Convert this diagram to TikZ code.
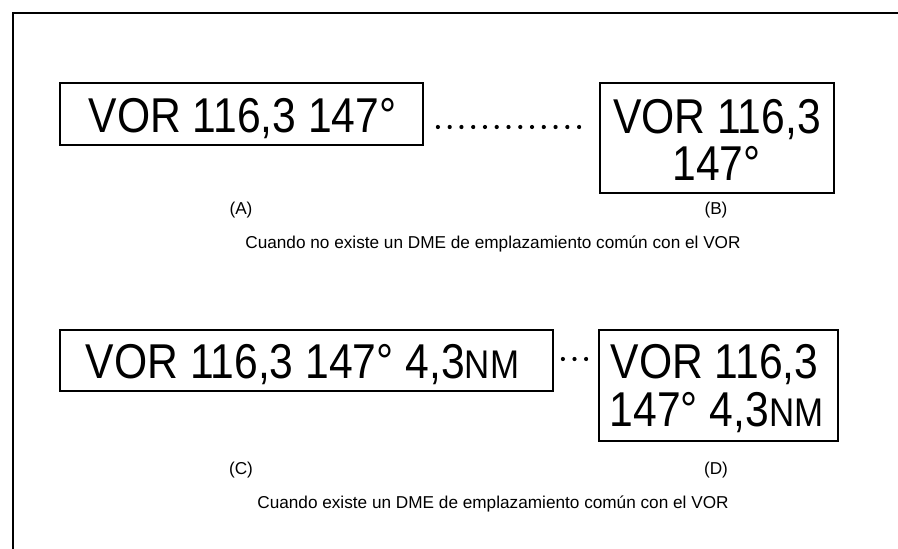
\documentclass[tikz,border=0pt]{standalone}
\usepackage{fontspec}
\setmainfont{Liberation Sans}
\newfontfamily\bigfamily[FakeStretch=0.872]{Liberation Sans}
\usetikzlibrary{calc}
\newcommand{\bigtxt}{\bigfamily\fontsize{48.9}{48.9}\selectfont}
\newcommand{\nmtxt}[1]{{\fontsize{40}{40}\selectfont #1}}
\tikzset{
  framebox/.style={draw=black, line width=1.6pt},
  vorbox/.style={draw=black, line width=1.8pt, rectangle, inner sep=0pt},
  bigtext/.style={font=\bigtxt, anchor=base, inner sep=0pt, text height=36pt, text depth=0pt},
  labeltext/.style={font=\fontsize{17.2}{17.2}\selectfont, anchor=base, inner sep=0pt},
  dotmark/.style={fill=black},
}
\begin{document}
\begin{tikzpicture}[x=1pt,y=-1pt]
\useasboundingbox (0,0) rectangle (898,549);
\fill[white] (0,0) rectangle (898,549);
% outer frame (only left and top sides visible)
\draw[framebox] (13,549) -- (13,13) -- (898,13);

% boxes
\node[vorbox, minimum width=363pt, minimum height=62pt] (A) at (241.5,114) {};
\node[vorbox, minimum width=234pt, minimum height=110pt] (B) at (717,138) {};
\node[vorbox, minimum width=493pt, minimum height=61pt] (C) at (306.5,360.5) {};
\node[vorbox, minimum width=239pt, minimum height=111pt] (D) at (718.5,385.5) {};

% box texts
\node[bigtext] (tB1) at (717,133.5) {VOR 116,3};
\node[bigtext] (tB2) at (716.5,180) {147°};
\node[bigtext] (tA) at (242.5,132) {VOR 116,3 147°};
\node[bigtext] (tC) at (302.5,378) {VOR 116,3 147° 4,3\nmtxt{NM}};
\node[bigtext] (tD1) at (714.5,378) {VOR 116,3};
\node[bigtext] (tD2) at (716.5,426) {147° 4,3\nmtxt{NM}};

% dotted connectors
\coordinate (ab1) at ($(A.east)+(14,13)$);
\coordinate (ab2) at ($(B.west)+(-20,-11)$);
\coordinate (cd1) at ($(C.east)+(9,-1.5)$);
\coordinate (cd2) at ($(D.west)+(-12,-26.5)$);
\foreach \i in {0,...,12} \fill[dotmark] ($(ab1)!\i/12!(ab2)$) circle (2.1pt);
\foreach \i in {0,1,2} \fill[dotmark] ($(cd1)!\i/2!(cd2)$) circle (2.1pt);

% labels
\node[labeltext] (lA) at (241,214.5) {(A)};
\node[labeltext] (lB) at (716,214.5) {(B)};
\node[labeltext] (cap1) at (493,248) {Cuando no existe un DME de emplazamiento común con el VOR};
\node[labeltext] (lC) at (241,474.5) {(C)};
\node[labeltext] (lD) at (716,474.5) {(D)};
\node[labeltext] (cap2) at (493,508) {Cuando existe un DME de emplazamiento común con el VOR};
\end{tikzpicture}
\end{document}
